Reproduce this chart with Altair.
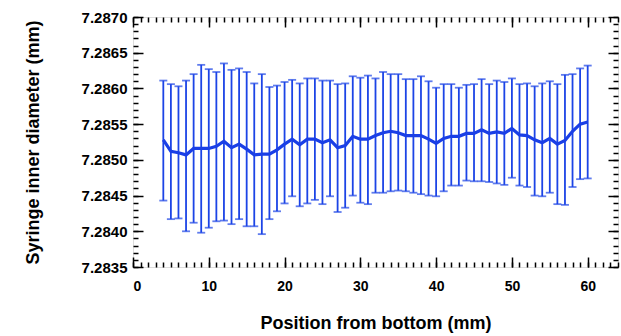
import altair as alt
import pandas as pd

positions = list(range(4, 61))
mean_d = [7.28528, 7.28512, 7.28510, 7.28507, 7.28516, 7.28516, 7.28516, 7.28519, 7.28526, 7.28517,
          7.28522, 7.28515, 7.28507, 7.28508, 7.28508, 7.28514, 7.28522, 7.28529, 7.28521, 7.28529,
          7.28529, 7.28524, 7.28528, 7.28517, 7.28520, 7.28533, 7.28529, 7.28529, 7.28534, 7.28538,
          7.28540, 7.28538, 7.28534, 7.28534, 7.28534, 7.28529, 7.28523, 7.28530, 7.28533, 7.28533,
          7.28537, 7.28537, 7.28542, 7.28537, 7.28539, 7.28537, 7.28544, 7.28535, 7.28534, 7.28528,
          7.28524, 7.28530, 7.28522, 7.28527, 7.28540, 7.28550, 7.28553]
upper_d = [7.28611, 7.28606, 7.28603, 7.28611, 7.28620, 7.28633, 7.28627, 7.28623, 7.28635, 7.28626,
           7.28628, 7.28623, 7.28607, 7.28620, 7.28602, 7.28604, 7.28609, 7.28612, 7.28607, 7.28614,
           7.28614, 7.28611, 7.28611, 7.28606, 7.28607, 7.28617, 7.28615, 7.28618, 7.28614, 7.28623,
           7.28620, 7.28620, 7.28613, 7.28613, 7.28617, 7.28610, 7.28601, 7.28606, 7.28606, 7.28601,
           7.28605, 7.28606, 7.28613, 7.28606, 7.28611, 7.28609, 7.28614, 7.28606, 7.28607, 7.28603,
           7.28607, 7.28610, 7.28606, 7.28619, 7.28620, 7.28628, 7.28632]
lower_d = [7.28443, 7.28417, 7.28418, 7.28400, 7.28412, 7.28398, 7.28405, 7.28414, 7.28415, 7.28410,
           7.28417, 7.28407, 7.28407, 7.28396, 7.28417, 7.28428, 7.28439, 7.28449, 7.28435, 7.28439,
           7.28444, 7.28438, 7.28449, 7.28427, 7.28433, 7.28450, 7.28440, 7.28438, 7.28454, 7.28454,
           7.28456, 7.28457, 7.28456, 7.28454, 7.28452, 7.28450, 7.28449, 7.28456, 7.28464, 7.28464,
           7.28471, 7.28470, 7.28470, 7.28469, 7.28467, 7.28465, 7.28475, 7.28464, 7.28462, 7.28450,
           7.28449, 7.28454, 7.28438, 7.28437, 7.28462, 7.28473, 7.28474]

x_major = [0, 10, 20, 30, 40, 50, 60]
x_minor = list(range(0, 65))
y_major = [7.2835, 7.2840, 7.2845, 7.2850, 7.2855, 7.2860, 7.2865, 7.2870]
y_minor = [round(7.2835 + i * 0.0001, 4) for i in range(36)]

df = pd.DataFrame({"pos": positions, "mean": mean_d, "upper": upper_d, "lower": lower_d})

FONT = "Liberation Sans"
BLUE = "#1c44e6"
xs = alt.Scale(domain=[0, 64], nice=False, zero=False)
ys = alt.Scale(domain=[7.2835, 7.2870], nice=False, zero=False)

base = alt.Chart(df)

main_line = base.mark_line(color="#1a3fe6", strokeWidth=3.2).encode(
    x=alt.X("pos:Q", scale=xs, axis=alt.Axis(
        orient="bottom", title="Position from bottom (mm)", values=x_major, tickSize=0,
        domain=False, grid=False, labelFont=FONT, labelFontSize=14, labelFontWeight="bold",
        labelColor="black", labelPadding=12, titleFont=FONT, titleFontSize=18,
        titleFontWeight="bold", titleColor="black", titleY=56, titleBaseline="middle")),
    y=alt.Y("mean:Q", scale=ys, axis=alt.Axis(
        orient="left", title="Syringe inner diameter (mm)", values=y_major, format=".4f",
        tickSize=0, domain=False, grid=False, labelFont=FONT, labelFontSize=15,
        labelFontWeight="bold", labelColor="black", labelPadding=6, titleFont=FONT,
        titleFontSize=18, titleFontWeight="bold", titleColor="black", titleX=-100,
        titleY=125, titleAngle=-90, titleBaseline="middle")),
)

rules = base.mark_rule(color=BLUE, strokeWidth=1.8).encode(
    x=alt.X("pos:Q", scale=xs, axis=None),
    y=alt.Y("lower:Q", scale=ys, axis=None),
    y2="upper:Q",
)
cap_top = base.mark_tick(orient="horizontal", size=8, thickness=1.8, color=BLUE).encode(
    x=alt.X("pos:Q", scale=xs, axis=None),
    y=alt.Y("upper:Q", scale=ys, axis=None),
)
cap_bot = base.mark_tick(orient="horizontal", size=8, thickness=1.8, color=BLUE).encode(
    x=alt.X("pos:Q", scale=xs, axis=None),
    y=alt.Y("lower:Q", scale=ys, axis=None),
)


def tick_layer(xorient, yorient, xvals, yvals, size):
    ax = dict(labels=False, domain=False, grid=False, title="", tickSize=size,
              offset=-size, tickColor="black", tickWidth=1.5)
    return base.mark_line(opacity=0).encode(
        x=alt.X("pos:Q", scale=xs, axis=alt.Axis(orient=xorient, values=xvals, **ax)),
        y=alt.Y("mean:Q", scale=ys, axis=alt.Axis(orient=yorient, values=yvals, **ax)),
    )


layers = [
    tick_layer("bottom", "left", x_major, y_major, 10),
    tick_layer("bottom", "left", x_minor, y_minor, 5),
    tick_layer("top", "right", x_major, y_major, 10),
    tick_layer("top", "right", x_minor, y_minor, 5),
    rules, cap_top, cap_bot, main_line,
]

chart = alt.layer(*layers).resolve_axis(x="independent", y="independent").properties(
    width=485, height=250,
    autosize=alt.AutoSizeParams(type="none"),
    padding={"left": 133, "top": 17, "right": 3, "bottom": 69},
).configure_view(stroke="black", strokeWidth=1.5).configure(background="white")

chart.save("out.html", embed_options={"renderer": "svg", "actions": False})
